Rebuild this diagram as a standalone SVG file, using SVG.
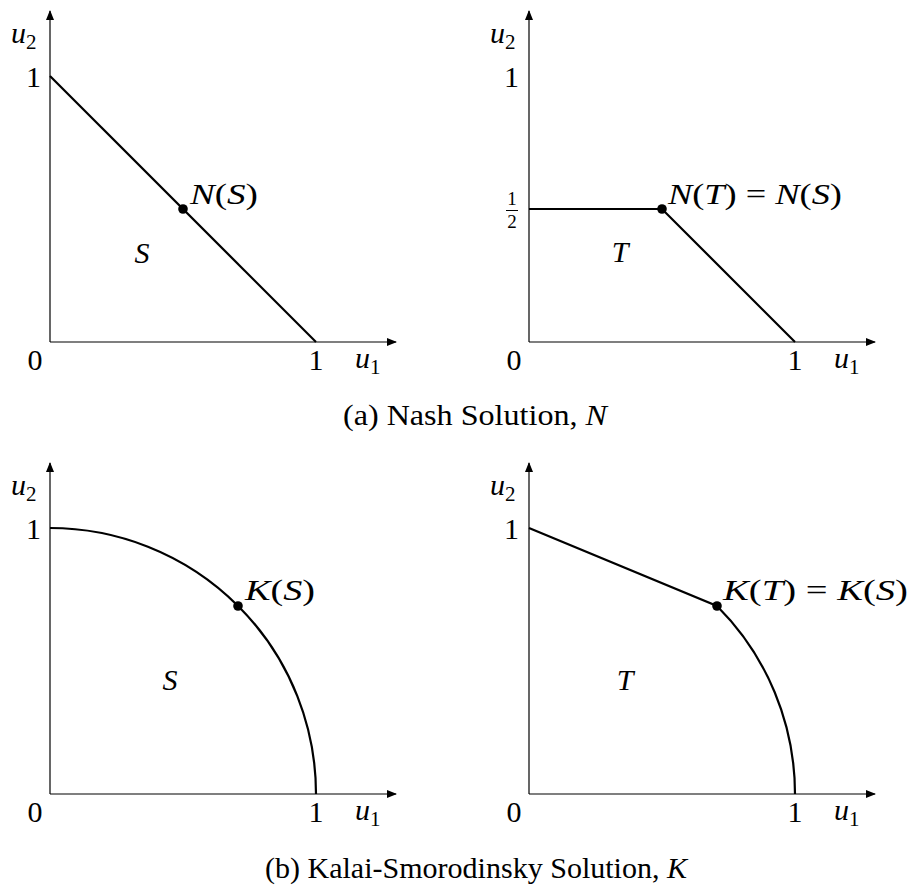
<svg xmlns="http://www.w3.org/2000/svg" width="914" height="887" viewBox="0 0 914 887">
<style>
.ax{stroke:#000;stroke-width:1.2;fill:none}
.cv{stroke:#000;stroke-width:2.2;fill:none}
text{font-family:'Liberation Serif','DejaVu Serif',serif;fill:#000}
.t{font-size:30px}
.i{font-style:italic}
.sub{font-size:21px;font-style:normal}
.fr{font-size:19px;text-anchor:middle}
</style>
<defs>
<marker id="ar" viewBox="0 0 10 8" refX="9" refY="4" markerWidth="10" markerHeight="8" markerUnits="userSpaceOnUse" orient="auto">
<path d="M0,0 L10,4 L0,8 Z" fill="#000"/>
</marker>
</defs>
<rect width="914" height="887" fill="#fff"/>

<g id="plot-a-left">
<path class="ax" d="M50,342 V11" marker-end="url(#ar)"/>
<path class="ax" d="M50,342 H396" marker-end="url(#ar)"/>
<path class="cv" d="M50,76 L316,342"/>
<circle cx="183" cy="209" r="4.8"/>
<text class="t i" x="11" y="43">u<tspan class="sub" dy="6">2</tspan></text>
<text class="t" x="41" y="87" text-anchor="end">1</text>
<text class="t" x="35" y="370" text-anchor="middle">0</text>
<text class="t" x="316" y="370" text-anchor="middle">1</text>
<text class="t i" x="355" y="368">u<tspan class="sub" dy="6">1</tspan></text>
<text class="t i" x="190" y="204" textLength="68" lengthAdjust="spacingAndGlyphs">N<tspan font-style="normal">(</tspan>S<tspan font-style="normal">)</tspan></text>
<text class="t i" x="142" y="263" text-anchor="middle">S</text>
</g>

<g id="plot-a-right">
<path class="ax" d="M529,342 V11" marker-end="url(#ar)"/>
<path class="ax" d="M529,342 H875" marker-end="url(#ar)"/>
<path class="cv" d="M529,209 H662 L795,342"/>
<circle cx="662" cy="209" r="4.8"/>
<text class="t i" x="490" y="43">u<tspan class="sub" dy="6">2</tspan></text>
<text class="t" x="519" y="87" text-anchor="end">1</text>
<text class="t fr" x="512" y="205" style="font-size:19px">1</text>
<path d="M506,210.5 H518" stroke="#000" stroke-width="1"/>
<text class="t fr" x="512" y="228" style="font-size:19px">2</text>
<text class="t" x="514" y="370" text-anchor="middle">0</text>
<text class="t" x="795" y="370" text-anchor="middle">1</text>
<text class="t i" x="834" y="368">u<tspan class="sub" dy="6">1</tspan></text>
<text class="t i" x="668" y="204" textLength="174" lengthAdjust="spacingAndGlyphs">N<tspan font-style="normal">(</tspan>T<tspan font-style="normal">) = </tspan>N<tspan font-style="normal">(</tspan>S<tspan font-style="normal">)</tspan></text>
<text class="t i" x="620" y="262" text-anchor="middle">T</text>
</g>

<g id="caption-a">
<text class="t" x="343" y="425" textLength="264" lengthAdjust="spacingAndGlyphs">(a) Nash Solution, <tspan font-style="italic">N</tspan></text>
</g>

<g id="plot-b-left">
<path class="ax" d="M50,794 V463" marker-end="url(#ar)"/>
<path class="ax" d="M50,794 H396" marker-end="url(#ar)"/>
<path class="cv" d="M50,528 A266,266 0 0 1 316,794"/>
<circle cx="238" cy="606" r="4.8"/>
<text class="t i" x="11" y="495">u<tspan class="sub" dy="6">2</tspan></text>
<text class="t" x="41" y="539" text-anchor="end">1</text>
<text class="t" x="35" y="822" text-anchor="middle">0</text>
<text class="t" x="316" y="822" text-anchor="middle">1</text>
<text class="t i" x="355" y="820">u<tspan class="sub" dy="6">1</tspan></text>
<text class="t i" x="245" y="600" textLength="70" lengthAdjust="spacingAndGlyphs">K<tspan font-style="normal">(</tspan>S<tspan font-style="normal">)</tspan></text>
<text class="t i" x="170" y="690" text-anchor="middle">S</text>
</g>

<g id="plot-b-right">
<path class="ax" d="M529,794 V463" marker-end="url(#ar)"/>
<path class="ax" d="M529,794 H875" marker-end="url(#ar)"/>
<path class="cv" d="M529,528 L717,606 A266,266 0 0 1 795,794"/>
<circle cx="717" cy="606" r="4.8"/>
<text class="t i" x="490" y="495">u<tspan class="sub" dy="6">2</tspan></text>
<text class="t" x="519" y="539" text-anchor="end">1</text>
<text class="t" x="514" y="822" text-anchor="middle">0</text>
<text class="t" x="795" y="822" text-anchor="middle">1</text>
<text class="t i" x="834" y="820">u<tspan class="sub" dy="6">1</tspan></text>
<text class="t i" x="723" y="600" textLength="185" lengthAdjust="spacingAndGlyphs">K<tspan font-style="normal">(</tspan>T<tspan font-style="normal">) = </tspan>K<tspan font-style="normal">(</tspan>S<tspan font-style="normal">)</tspan></text>
<text class="t i" x="625" y="690" text-anchor="middle">T</text>
</g>

<g id="caption-b">
<text class="t" x="265" y="878" textLength="422" lengthAdjust="spacingAndGlyphs">(b) Kalai-Smorodinsky Solution, <tspan font-style="italic">K</tspan></text>
</g>
</svg>
